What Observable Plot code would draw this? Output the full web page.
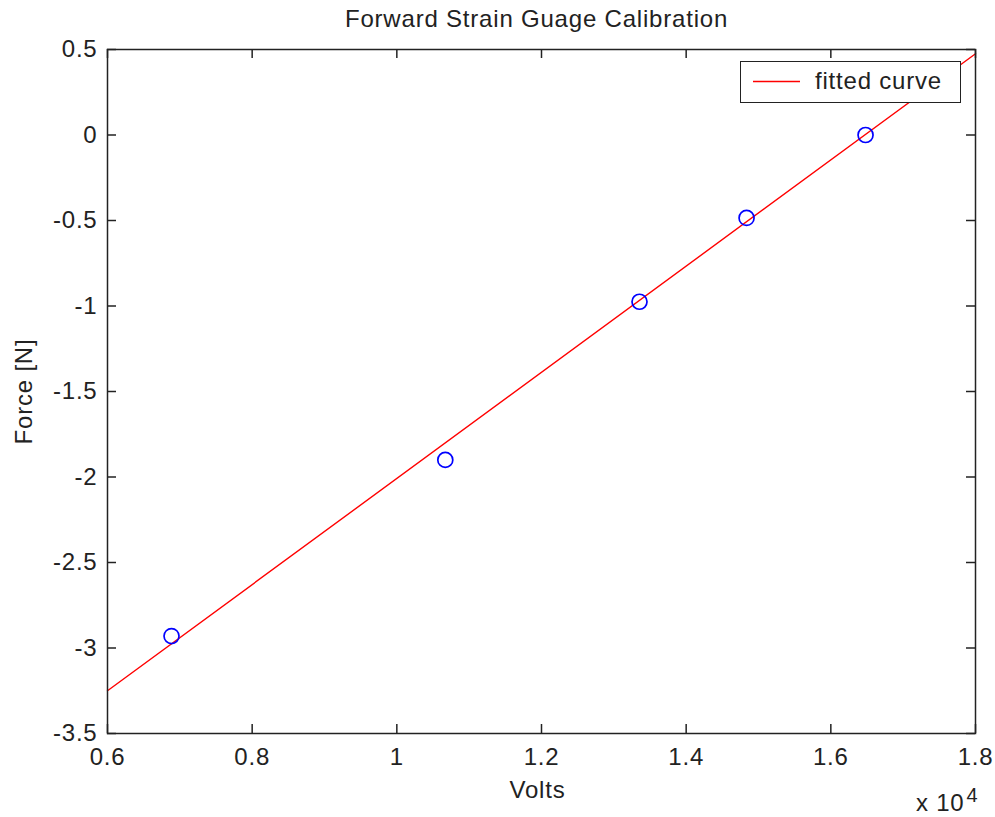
<!DOCTYPE html>
<html><head><meta charset="utf-8">
<script src="https://cdn.jsdelivr.net/npm/d3@7"></script>
<script src="https://cdn.jsdelivr.net/npm/@observablehq/plot@0.6"></script>
<style>
body{margin:0;background:#fff;}
#wrap{position:relative;width:995px;height:817px;}
#legend{position:absolute;left:740px;top:61px;width:219px;height:40px;border:1.5px solid #222;background:#fff;font:24px "Liberation Sans",Arial,sans-serif;letter-spacing:0.8px;color:#222;}
#legend svg{position:absolute;left:0;top:0;}
#legend .tx{position:absolute;left:74px;top:7px;line-height:24px;white-space:nowrap;}
</style></head>
<body><div id="wrap"></div>
<script>
const volts = [6885, 10670, 13355, 14835, 16480];
const force = [-2.93, -1.90, -0.975, -0.485, 0.0];
const fitVolts = [6000, 18000];
const fitForce = [-3.25, 0.475];
const xTicks = [6000, 8000, 10000, 12000, 14000, 16000, 18000];
const yTicks = [0.5, 0, -0.5, -1, -1.5, -2, -2.5, -3, -3.5];
const title = "Forward Strain Guage Calibration";
const xLabel = "Volts";
const yLabel = "Force [N]";
const xMultiplier = "x 10";
const xExponent = "4";
const legendLabel = "fitted curve";

const W = 995, H = 817, mL = 107, mR = 20, mT = 49, mB = 84;
const innerW = W - mL - mR, innerH = H - mT - mB;
const tickLen = 9;
const axisColor = "#222";

const points = volts.map((v, i) => ({v, f: force[i]}));
const fit = fitVolts.map((v, i) => ({v, f: fitForce[i]}));

const plot = Plot.plot({
  width: W, height: H,
  marginLeft: mL, marginRight: mR, marginTop: mT, marginBottom: mB,
  style: {fontFamily: '"Liberation Sans", Arial, sans-serif', fontSize: "24px", letterSpacing: "0.8px", color: axisColor, background: "#fff", overflow: "visible"},
  x: {domain: [6000, 18000]},
  y: {domain: [-3.5, 0.5]},
  marks: [
    Plot.line(fit, {x: "v", y: "f", stroke: "#ff0000", strokeWidth: 1.4}),
    Plot.dot(points, {x: "v", y: "f", r: 7.5, stroke: "#0000ff", strokeWidth: 1.7, fill: "none"}),
    Plot.tickX(xTicks, {x: d => d, insetTop: innerH - tickLen, stroke: axisColor, strokeWidth: 1.5}),
    Plot.tickX(xTicks, {x: d => d, insetBottom: innerH - tickLen, stroke: axisColor, strokeWidth: 1.5}),
    Plot.tickY(yTicks, {y: d => d, insetRight: innerW - tickLen, stroke: axisColor, strokeWidth: 1.5}),
    Plot.tickY(yTicks, {y: d => d, insetLeft: innerW - tickLen, stroke: axisColor, strokeWidth: 1.5}),
    Plot.frame({stroke: axisColor, strokeWidth: 1.5}),
    Plot.axisX(xTicks, {tickSize: 0, tickPadding: 14, tickFormat: d => String(d / 1e4), label: null}),
    Plot.axisY(yTicks, {tickSize: 0, tickPadding: 10, tickFormat: d => String(d), label: null}),
    Plot.text([title], {frameAnchor: "top", textAnchor: "middle", lineAnchor: "middle", dy: -30, dx: -5, fill: axisColor}),
    Plot.text([xLabel], {frameAnchor: "bottom", textAnchor: "middle", lineAnchor: "middle", dy: 57, dx: -4, fill: axisColor}),
    Plot.text([yLabel], {frameAnchor: "left", textAnchor: "middle", lineAnchor: "middle", rotate: -90, dx: -83, fill: axisColor}),
    Plot.text([xMultiplier], {frameAnchor: "bottom-right", textAnchor: "end", lineAnchor: "middle", dx: -11, dy: 70, fill: axisColor}),
    Plot.text([xExponent], {frameAnchor: "bottom-right", textAnchor: "start", lineAnchor: "middle", dx: -9, dy: 62, fontSize: 20, fill: axisColor})
  ]
});

const wrap = document.getElementById("wrap");
wrap.appendChild(plot);
const legend = document.createElement("div");
legend.id = "legend";
legend.innerHTML = '<svg width="70" height="40"><line x1="12" x2="59" y1="19.5" y2="19.5" stroke="#ff0000" stroke-width="1.6"/></svg>';
const tx = document.createElement("span");
tx.className = "tx";
tx.textContent = legendLabel;
legend.appendChild(tx);
wrap.appendChild(legend);
</script>
</body></html>
